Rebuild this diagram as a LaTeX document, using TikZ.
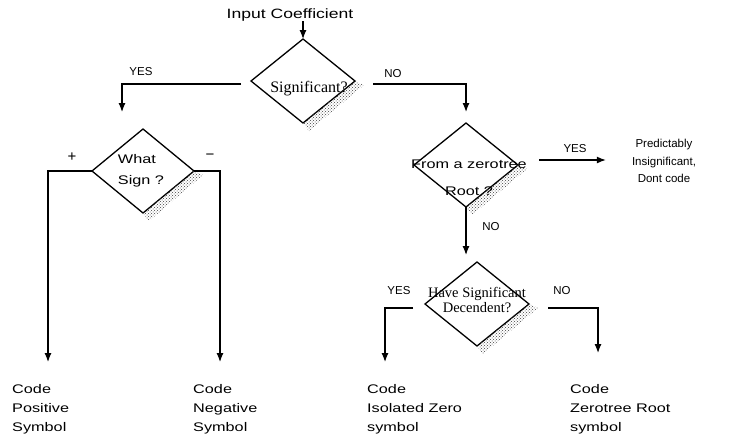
\documentclass[tikz,border=0pt]{standalone}
\usepackage{fontspec}
\setmainfont{Liberation Sans}
\newfontfamily\widefont{Liberation Sans}[FakeStretch=1.3]
\newfontfamily\romfont{Liberation Serif}
\usetikzlibrary{shapes.geometric,arrows.meta,patterns}

\newcommand{\dshadow}[1]{

	\fill[pattern=crosshatch dots, pattern color=black!75] (#1.east) -- ([shift={(9pt,-4pt)}]#1.east) -- ([shift={(6pt,-8pt)}]#1.south) -- (#1.south) -- cycle;

}

\tikzset{
	dia/.style={draw, shape=diamond, line width=1.3pt, minimum width=104pt, minimum height=84pt, inner sep=0pt, outer sep=0pt},
	txt/.style={inner sep=0pt, align=left, font=\widefont\fontsize{12.5}{19}\selectfont},
	lbl/.style={inner sep=0pt, font=\fontsize{11.5}{14}\selectfont},
	flow/.style={line width=1.2pt, -{Latex[length=9pt,width=7pt]}}
}

\begin{document}
\begin{tikzpicture}[x=1pt,y=-1pt]

	\useasboundingbox (0,0) rectangle (731,434);

	\node[dia] (sig) at (303,81) {};
	\node[dia, minimum width=102pt] (sign) at (143,171) {};
	\node[dia] (zt) at (466,165) {};
	\node[dia] (desc) at (477,304) {};
	\dshadow{sig}
	\dshadow{sign}
	\dshadow{zt}
	\dshadow{desc}

	\node[inner sep=0pt, font=\romfont\fontsize{16}{16}\selectfont] (sigtxt) at (309,89) {Significant?};
	\node[txt] (signtxt) at (141,171) {What\\[2pt] Sign ?};
	\node[txt, align=center] (zttxt) at (469,178) {From a zerotree\\[8pt] Root ?};
	\node[inner sep=0pt, align=center, font=\romfont\fontsize{14.5}{15}\selectfont] (desctxt) at (477,300) {Have Significant\\ Decendent?};

	\node[txt, font=\widefont\fontsize{13.5}{16}\selectfont] (in) at (290,15) {Input Coefficient};
	\node[txt, anchor=north west] (pos) at (12,384) {Code\\ Positive\\ Symbol};
	\node[txt, anchor=north west] (neg) at (193,384) {Code\\ Negative\\ Symbol};
	\node[txt, anchor=north west] (iso) at (367,384) {Code\\ Isolated Zero\\ symbol};
	\node[txt, anchor=north west] (ztr) at (570,384) {Code\\ Zerotree Root\\ symbol};
	\node[inner sep=0pt, align=center, font=\fontsize{11.5}{17.5}\selectfont] (pred) at (664,161) {Predictably\\ Insignificant,\\ Dont code};

	\node[lbl] (yes1) at (141,72) {YES};
	\node[lbl] (no1) at (393,74) {NO};
	\node[lbl, font=\fontsize{15}{15}\selectfont] (plus) at (72,157) {+};
	\node[lbl, font=\fontsize{15}{15}\selectfont] (minus) at (210,157) {−};
	\node[lbl] (yes2) at (575,149) {YES};
	\node[lbl] (no2) at (491,227) {NO};
	\node[lbl] (yes3) at (399,291) {YES};
	\node[lbl] (no3) at (562,291) {NO};

	\draw[flow] (in.south -| sig.north) -- (sig.north);
	\draw[flow] ([shift={(-10pt,-3pt)}]sig.west) -| ([shift={(-21pt,17pt)}]sign.north);
	\draw[flow] ([shift={(18pt,-3pt)}]sig.east) -| ([yshift=11pt]zt.north);
	\draw[flow] (sign.west) -| ([shift={(36pt,22pt)}]pos.north west);
	\draw[flow] (sign.east) -| ([shift={(27pt,22pt)}]neg.north west);
	\coordinate (ztyes) at ([shift={(21pt,5pt)}]zt.east);
	\draw[flow, shorten >=26pt] (ztyes) -- (ztyes -| pred.west);
	\draw[flow, shorten >=7pt] (zt.south) -- (zt.south |- desc.north);
	\draw[flow] ([shift={(-12pt,-4pt)}]desc.west) -| ([shift={(18pt,22pt)}]iso.north west);
	\draw[flow] ([shift={(19pt,-4pt)}]desc.east) -| ([shift={(28pt,31pt)}]ztr.north west);

\end{tikzpicture}
\end{document}
